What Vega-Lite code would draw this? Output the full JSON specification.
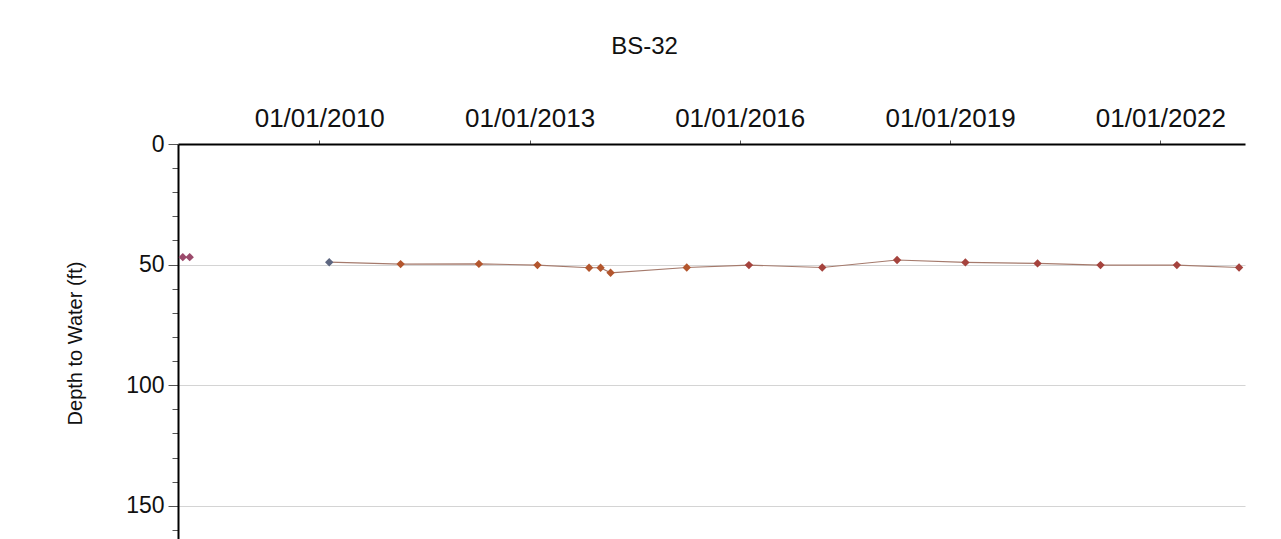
{
  "$schema": "https://vega.github.io/schema/vega-lite/v6.json",
  "autosize": "none",
  "padding": {"left": 178, "top": 144, "right": 36, "bottom": 0},
  "width": 1067,
  "height": 398,
  "background": "white",
  "title": {
    "text": "BS-32",
    "font": "Liberation Sans",
    "fontSize": 24,
    "fontWeight": "normal",
    "color": "#111111",
    "anchor": "middle",
    "dx": -67,
    "offset": 46
  },
  "config": {
    "view": {"stroke": null},
    "axis": {"labelFont": "Liberation Sans", "titleFont": "Liberation Sans", "labelColor": "#111111", "titleColor": "#111111"}
  },
  "data": {
    "values": [
      {"date": "2008-01-21", "depth": 46.9, "grp": "a", "series": "early"},
      {"date": "2008-02-26", "depth": 46.9, "grp": "a", "series": "early"},
      {"date": "2010-02-22", "depth": 49.0, "grp": "b", "series": "main"},
      {"date": "2011-03-01", "depth": 49.8, "grp": "c", "series": "main"},
      {"date": "2012-04-12", "depth": 49.7, "grp": "c", "series": "main"},
      {"date": "2013-02-11", "depth": 50.2, "grp": "c", "series": "main"},
      {"date": "2013-11-07", "depth": 51.3, "grp": "c", "series": "main"},
      {"date": "2014-01-06", "depth": 51.3, "grp": "c", "series": "main"},
      {"date": "2014-02-27", "depth": 53.4, "grp": "c", "series": "main"},
      {"date": "2015-03-31", "depth": 51.2, "grp": "c", "series": "main"},
      {"date": "2016-02-18", "depth": 50.2, "grp": "d", "series": "main"},
      {"date": "2017-03-06", "depth": 51.2, "grp": "d", "series": "main"},
      {"date": "2018-03-31", "depth": 48.1, "grp": "d", "series": "main"},
      {"date": "2019-03-22", "depth": 49.1, "grp": "d", "series": "main"},
      {"date": "2020-04-01", "depth": 49.5, "grp": "d", "series": "main"},
      {"date": "2021-02-23", "depth": 50.2, "grp": "d", "series": "main"},
      {"date": "2022-03-28", "depth": 50.2, "grp": "d", "series": "main"},
      {"date": "2023-02-15", "depth": 51.2, "grp": "d", "series": "main"}
    ]
  },
  "encoding": {
    "x": {
      "field": "date",
      "type": "temporal",
      "scale": {
        "type": "utc",
        "domain": [
          {"year": 2007, "month": 12, "date": 27, "utc": true},
          {"year": 2023, "month": 3, "date": 18, "utc": true}
        ]
      },
      "axis": {
        "orient": "top",
        "title": null,
        "labelExpr": "utcFormat(datum.value, '%m/%d/%Y')",
        "values": [
          {"year": 2010, "month": 1, "date": 1, "utc": true},
          {"year": 2013, "month": 1, "date": 1, "utc": true},
          {"year": 2016, "month": 1, "date": 1, "utc": true},
          {"year": 2019, "month": 1, "date": 1, "utc": true},
          {"year": 2022, "month": 1, "date": 1, "utc": true}
        ],
        "grid": false,
        "domainColor": "#000000",
        "domainWidth": 2,
        "tickColor": "#555555",
        "tickSize": 4,
        "labelFontSize": 26,
        "labelPadding": 9,
        "labelFlush": false,
        "labelOverlap": false
      }
    },
    "y": {
      "field": "depth",
      "type": "quantitative",
      "scale": {"domain": [0, 165], "reverse": true, "nice": false, "zero": false},
      "axis": {
        "title": "Depth to Water (ft)",
        "titleFontSize": 20,
        "titleFontWeight": "normal",
        "titlePadding": 40,
        "values": [0, 10, 20, 30, 40, 50, 60, 70, 80, 90, 100, 110, 120, 130, 140, 150, 160],
        "labelExpr": "datum.value % 50 === 0 ? datum.label : ''",
        "labelFontSize": 23,
        "labelPadding": 4,
        "domainColor": "#000000",
        "domainWidth": 2,
        "tickColor": "#555555",
        "tickSize": {"expr": "datum.value % 50 === 0 ? 10 : 6"},
        "grid": true,
        "gridColor": "#d4d4d4",
        "gridWidth": 1.2,
        "gridOpacity": {"expr": "datum.value % 50 === 0 && datum.value > 0 ? 1 : 0"}
      }
    }
  },
  "layer": [
    {
      "transform": [{"filter": "datum.series === 'main'"}],
      "mark": {"type": "line", "color": "#a57a6c", "strokeWidth": 1.2},
      "encoding": {}
    },
    {
      "mark": {"type": "point", "shape": "diamond", "filled": true, "size": 70, "opacity": 1},
      "encoding": {
        "color": {
          "field": "grp",
          "type": "nominal",
          "scale": {"domain": ["a", "b", "c", "d"], "range": ["#9b4a6b", "#5d6680", "#b3562d", "#a5433d"]},
          "legend": null
        }
      }
    }
  ]
}
